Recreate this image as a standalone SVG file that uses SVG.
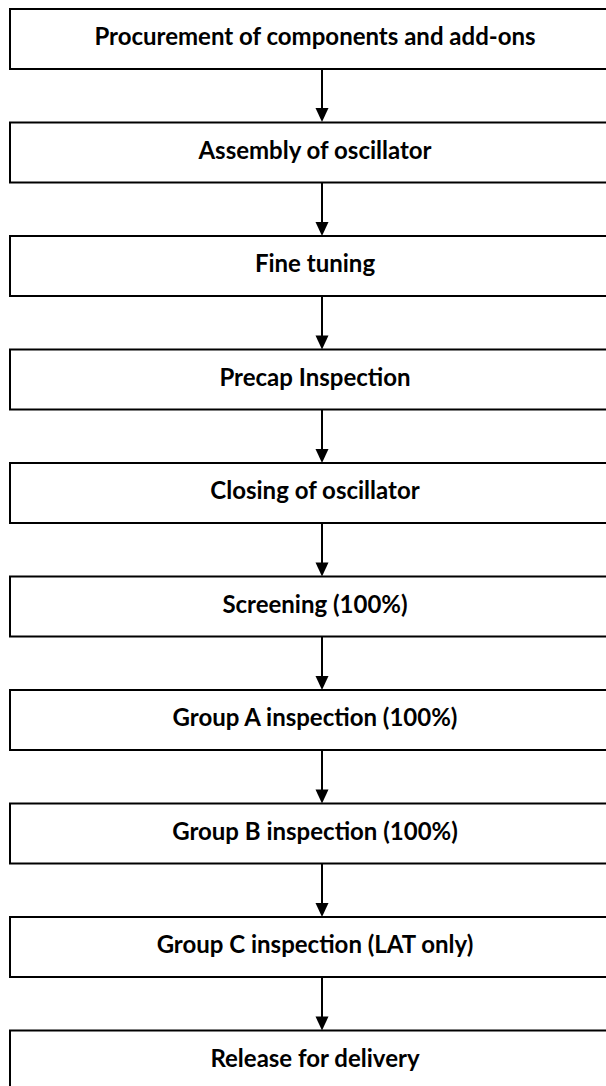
<svg xmlns="http://www.w3.org/2000/svg" width="606" height="1086" viewBox="0 0 606 1086">
<defs>
<style>
.box{fill:#fff;stroke:#000;stroke-width:2}
.lbl{font-family:Lato,"Open Sans",sans-serif;font-weight:bold;font-size:24px;fill:#000;text-anchor:middle}
.con{stroke:#000;stroke-width:2;fill:none}
</style>
</defs>
<rect width="606" height="1086" fill="#fff"/>
<g id="n1"><rect class="box" x="10" y="9" width="620" height="60"/><text class="lbl" x="315" y="45">Procurement of components and add-ons</text></g>
<g id="n2"><rect class="box" x="10" y="122.5" width="620" height="60"/><text class="lbl" x="315" y="158.5">Assembly of oscillator</text></g>
<g id="n3"><rect class="box" x="10" y="236" width="620" height="60"/><text class="lbl" x="315" y="272">Fine tuning</text></g>
<g id="n4"><rect class="box" x="10" y="349.5" width="620" height="60"/><text class="lbl" x="315" y="385.5">Precap Inspection</text></g>
<g id="n5"><rect class="box" x="10" y="463" width="620" height="60"/><text class="lbl" x="315" y="499">Closing of oscillator</text></g>
<g id="n6"><rect class="box" x="10" y="576.5" width="620" height="60"/><text class="lbl" x="315" y="612.5">Screening (100%)</text></g>
<g id="n7"><rect class="box" x="10" y="690" width="620" height="60"/><text class="lbl" x="315" y="726">Group A inspection (100%)</text></g>
<g id="n8"><rect class="box" x="10" y="803.5" width="620" height="60"/><text class="lbl" x="315" y="839.5">Group B inspection (100%)</text></g>
<g id="n9"><rect class="box" x="10" y="917" width="620" height="60"/><text class="lbl" x="315" y="953">Group C inspection (LAT only)</text></g>
<g id="n10"><rect class="box" x="10" y="1030.5" width="620" height="60"/><text class="lbl" x="315" y="1066.5">Release for delivery</text></g>
<g id="connectors" fill="#000" stroke="#000">
<line class="con" x1="322" y1="69" x2="322" y2="110"/><path d="M315.5,108 L328.5,108 L322,122 Z" stroke="none"/>
<line class="con" x1="322" y1="182.5" x2="322" y2="224"/><path d="M315.5,222 L328.5,222 L322,236 Z" stroke="none"/>
<line class="con" x1="322" y1="296" x2="322" y2="337"/><path d="M315.5,335.5 L328.5,335.5 L322,349.5 Z" stroke="none"/>
<line class="con" x1="322" y1="409.5" x2="322" y2="451"/><path d="M315.5,449 L328.5,449 L322,463 Z" stroke="none"/>
<line class="con" x1="322" y1="523" x2="322" y2="564"/><path d="M315.5,562.5 L328.5,562.5 L322,576.5 Z" stroke="none"/>
<line class="con" x1="322" y1="636.5" x2="322" y2="678"/><path d="M315.5,676 L328.5,676 L322,690 Z" stroke="none"/>
<line class="con" x1="322" y1="750" x2="322" y2="791"/><path d="M315.5,789.5 L328.5,789.5 L322,803.5 Z" stroke="none"/>
<line class="con" x1="322" y1="863.5" x2="322" y2="905"/><path d="M315.5,903 L328.5,903 L322,917 Z" stroke="none"/>
<line class="con" x1="322" y1="977" x2="322" y2="1018"/><path d="M315.5,1016.5 L328.5,1016.5 L322,1030.5 Z" stroke="none"/>
</g>
</svg>
